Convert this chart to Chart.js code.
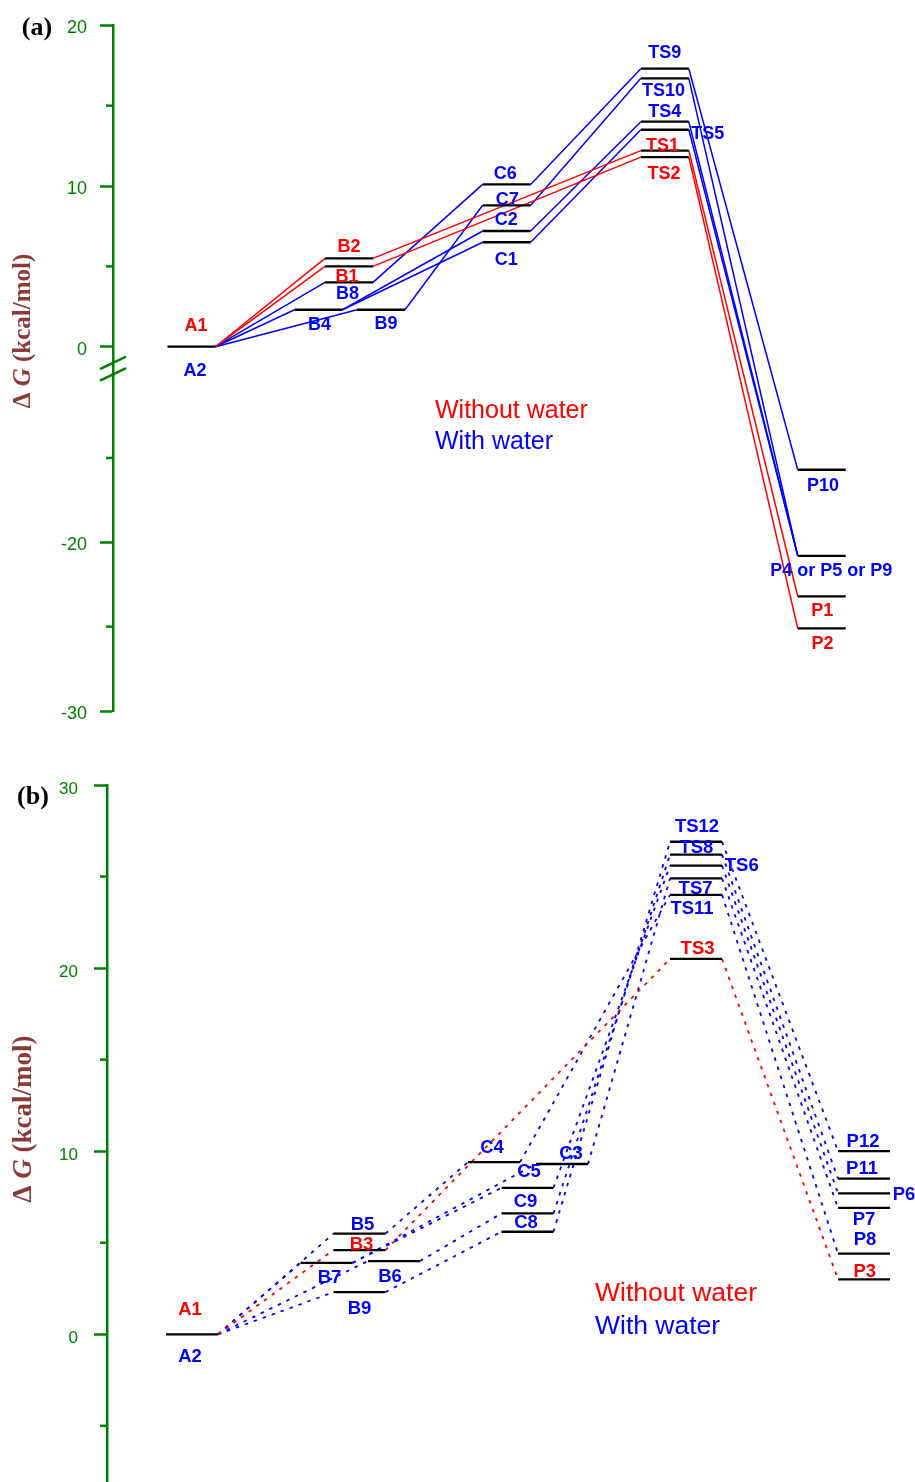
<!DOCTYPE html>
<html><head><meta charset="utf-8">
<script src="https://cdn.jsdelivr.net/npm/chart.js@4.4.1/dist/chart.umd.min.js"></script>
<style>
html,body{margin:0;padding:0;background:#fff;}
#wrap{position:relative;width:915px;height:1482px;overflow:hidden;background:#fff;}
canvas{position:absolute;left:0;}
#ca{top:0;}
#cb{top:745px;}
</style></head><body>
<div id="wrap">
<canvas id="ca" width="915" height="745"></canvas>
<canvas id="cb" width="915" height="839"></canvas>
</div>
<script>
// ================= DATA =================
// ---- Panel (a) ----
const aLevelNames  = ['A','B2','B1','B8','B4','B9','C6','C7','C2','C1','TS9','TS10','TS4','TS5','TS1','TS2','P10','P4 or P5 or P9','P1','P2'];
const aLevelValues = [0, 5.5, 5.0, 4.0, 2.3, 2.3, 10.1, 8.8, 7.2, 6.5, 17.3, 16.7, 14.0, 13.5, 12.2, 11.8, -15.7, -20.8, -23.2, -25.1];
const aPathsWithoutWater = [['A','B2','TS1','P1'], ['A','B1','TS2','P2']];
const aPathsWithWater = [['A','B8','C6','TS9','P10'], ['A','B9','C7','TS10','P4 or P5 or P9'], ['A','B4','C2','TS4','P4 or P5 or P9'], ['A','B4','C1','TS5','P4 or P5 or P9']];
const aLabelTexts  = ['A1','A2','B2','B1','B8','B4','B9','C6','C7','C2','C1','TS9','TS10','TS4','TS5','TS1','TS2','P10','P4 or P5 or P9','P1','P2'];
const aLabelLevels = ['A','A','B2','B1','B8','B4','B9','C6','C7','C2','C1','TS9','TS10','TS4','TS5','TS1','TS2','P10','P4 or P5 or P9','P1','P2'];
const aLabelSeries = ['without','with','without','without','with','with','with','with','with','with','with','with','with','with','with','without','without','with','with','without','without'];
const aTickValues = [20, 15, 10, 5, 0, -15, -20, -25, -30];
const aTickLabels = ['20', '', '10', '', '0', '', '-20', '', '-30'];

// ---- Panel (b) ----
const bLevelNames  = ['A','B5','B3','B7','B6','B9','C4','C5','C9','C8','C3','TS12','TS8','TS6','TS7','TS11','TS3','P12','P11','P6','P7','P8','P3'];
const bLevelValues = [0, 5.5, 4.6, 3.9, 4.0, 2.3, 9.4, 8.0, 6.6, 5.6, 9.3, 26.9, 26.2, 25.6, 24.9, 24.0, 20.5, 10.0, 8.5, 7.7, 6.9, 4.4, 3.0];
const bPathsWithoutWater = [['A','B3','TS3','P3']];
const bPathsWithWater = [['A','B5','C4','TS11','P8'], ['A','B7','C5','TS6','P6'], ['A','B6','C9','TS8','P11'], ['A','B9','C8','TS12','P12'], ['A','B7','C3','TS7','P7']];
const bLabelTexts  = ['A1','A2','B5','B3','B7','B6','B9','C4','C5','C9','C8','C3','TS12','TS8','TS6','TS7','TS11','TS3','P12','P11','P6','P7','P8','P3'];
const bLabelLevels = ['A','A','B5','B3','B7','B6','B9','C4','C5','C9','C8','C3','TS12','TS8','TS6','TS7','TS11','TS3','P12','P11','P6','P7','P8','P3'];
const bLabelSeries = ['without','with','with','without','with','with','with','with','with','with','with','with','with','with','with','with','with','without','with','with','with','with','with','without'];
const bTickValues = [30, 25, 20, 15, 10, 5, 0, -5];
const bTickLabels = ['30', '', '20', '', '10', '', '0', ''];

const legendTexts = ['Without water', 'With water'];
const axisTitleParts = ['\u0394 ', 'G', ' (kcal/mol)'];

// ================= LAYOUT / STYLE =================
const RED = '#ff0000', BLUE = '#0000ff', BLACK = '#000000', GREEN = '#008000', TITLE = '#8b3a3a';
const SERIES_COLOR = {without: RED, with: BLUE};

// horizontal column centres (reaction-coordinate units, 8 px each)
const aX = {'A':9.81,'B2':29.5,'B1':29.5,'B8':29.5,'B4':25.69,'B9':33.5,'C6':49.21,'C7':49.21,'C2':49.21,'C1':49.21,
  'TS9':68.98,'TS10':68.98,'TS4':68.98,'TS5':68.98,'TS1':68.98,'TS2':68.98,'P10':88.59,'P4 or P5 or P9':88.59,'P1':88.59,'P2':88.59};
const bX = {'A':10.63,'B5':31.56,'B3':31.56,'B9':31.56,'B7':27.44,'B6':35.88,'C4':48.38,'C5':52.56,'C9':52.56,'C8':52.56,'C3':56.88,
  'TS12':73.63,'TS8':73.63,'TS6':73.63,'TS7':73.63,'TS11':73.63,'TS3':73.63,'P12':94.63,'P11':94.63,'P6':94.63,'P7':94.63,'P8':94.63,'P3':94.63};
// label offsets from level centre (px)
const aLabelOff = {'A1':[4.5,-22],'A2':[3.5,23],'B2':[0,-13],'B1':[-2,9],'B8':[-1.5,10],'B4':[1,14],'B9':[5,13],
  'C6':[-1.5,-12],'C7':[0.5,-6.5],'C2':[-0.5,-12],'C1':[-0.5,16],'TS9':[0,-17],'TS10':[-1.3,11.5],'TS4':[0,-11.6],'TS5':[43,3],
  'TS1':[-2.3,-6.3],'TS2':[-0.8,15],'P10':[1.3,15],'P4 or P5 or P9':[9.6,14],'P1':[0.5,13],'P2':[0.8,14]};
const bLabelOff = {'A1':[-2,-26],'A2':[-2,21],'B5':[3,-10.5],'B3':[2,-6.5],'B7':[3,13],'B6':[-4,14.5],'B9':[0,15.6],
  'C4':[-2,-15.5],'C5':[1.5,-17],'C9':[-2,-13.5],'C8':[-1.5,-10],'C3':[9,-12],'TS12':[1,-16.5],'TS8':[0.3,-8],'TS6':[45.7,-1],
  'TS7':[-0.5,8.5],'TS11':[-4,12.5],'TS3':[1.5,-12],'P12':[-1,-11],'P11':[-2,-11.5],'P6':[40,0],'P7':[0,10],'P8':[1,-15],'P3':[0.7,-8.5]};

// broken axis of panel (a): values below the break are drawn on a compressed lower segment
function brkA(v){ return v >= -1.5 ? v : -12.17 + (20 + v) * 1.0498; }
function ident(v){ return v; }

function buildDatasets(names, values, xc, hw, pathsRed, pathsBlue, dash, lw, tf) {
  const val = n => tf(values[names.indexOf(n)]);
  const ds = [];
  names.forEach(n => ds.push({data:[{x:xc[n]-hw,y:val(n)},{x:xc[n]+hw,y:val(n)}], borderColor:BLACK, borderWidth:2.3, borderCapStyle:'butt'}));
  const seen = new Set();
  const add = (paths, color) => paths.forEach(p => {
    for (let k = 0; k < p.length - 1; k++) {
      const a = p[k], b = p[k+1], key = color + a + '>' + b;
      if (seen.has(key)) continue; seen.add(key);
      ds.push({data:[{x:xc[a]+hw,y:val(a)},{x:xc[b]-hw,y:val(b)}], borderColor:color, borderWidth:lw, borderDash:dash});
    }
  });
  add(pathsRed, RED); add(pathsBlue, BLUE);
  return ds;
}

function decor(o) {
  return { id:'decor'+o.tag, afterDraw(chart) {
    const ctx = chart.ctx, ys = chart.scales.y, xs = chart.scales.x;
    ctx.save();
    const axX = ys.right;
    // minor ticks
    ctx.strokeStyle = GREEN; ctx.lineWidth = 2.5;
    o.tickValues.forEach((v,i) => { if (!o.tickLabels[i]) { const py = ys.getPixelForValue(o.tf(v)); ctx.beginPath(); ctx.moveTo(axX-7,py); ctx.lineTo(axX,py); ctx.stroke(); } });
    // axis break marks
    if (o.breaks) o.breaks.forEach(bv => { const py = ys.getPixelForValue(bv); ctx.beginPath(); ctx.moveTo(axX-13,py+6.3); ctx.lineTo(axX+13,py-6.3); ctx.stroke(); });
    // level labels
    ctx.font = 'bold ' + o.labelSize + 'px "Liberation Sans", Arial, sans-serif'; ctx.textAlign = 'center'; ctx.textBaseline = 'alphabetic';
    const capHalf = 0.716 * o.labelSize / 2;
    o.labelTexts.forEach((t,i) => {
      const lv = o.labelLevels[i]; const v = o.values[o.names.indexOf(lv)];
      const off = o.labelOff[t];
      const cx = xs.getPixelForValue(o.xc[lv]) + off[0];
      const cy = ys.getPixelForValue(o.tf(v)) + off[1];
      ctx.fillStyle = SERIES_COLOR[o.labelSeries[i]];
      ctx.fillText(t, cx, cy + capHalf);
    });
    // legend texts
    ctx.textAlign = 'left'; ctx.font = o.legendFont;
    ctx.fillStyle = RED; ctx.fillText(legendTexts[0], o.legend[0], o.legend[1]);
    ctx.fillStyle = BLUE; ctx.fillText(legendTexts[1], o.legend[0], o.legend[2]);
    // panel tag
    ctx.fillStyle = BLACK; ctx.font = 'bold 26px "Liberation Serif", "Times New Roman", serif'; ctx.textAlign = 'center'; ctx.textBaseline = 'middle';
    ctx.fillText(o.tagText, o.tagPos[0], o.tagPos[1]);
    // y-axis title (rotated)
    ctx.translate(o.titlePos[0], o.titlePos[1]); ctx.rotate(-Math.PI/2);
    const fN = 'bold ' + o.titleSize + 'px "Liberation Serif", "Times New Roman", serif';
    const fI = 'italic bold ' + o.titleSize + 'px "Liberation Serif", "Times New Roman", serif';
    const fonts = [fN, fI, fN];
    let w = 0; axisTitleParts.forEach((p,i) => { ctx.font = fonts[i]; w += ctx.measureText(p).width; });
    let x = -w/2; ctx.textAlign = 'left'; ctx.fillStyle = TITLE;
    axisTitleParts.forEach((p,i) => { ctx.font = fonts[i]; ctx.fillText(p, x, 0); x += ctx.measureText(p).width; });
    ctx.restore();
  }};
}

function makeChart(id, o) {
  const ds = buildDatasets(o.names, o.values, o.xc, o.hw, o.pathsRed, o.pathsBlue, o.dash, o.lw, o.tf);
  return new Chart(document.getElementById(id), {
    type:'line',
    data:{datasets: ds},
    options:{
      responsive:false, animation:false, events:[],
      elements:{point:{radius:0}, line:{tension:0}},
      layout:{padding:o.padding},
      plugins:{legend:{display:false}, tooltip:{enabled:false}},
      scales:{
        x:{type:'linear', display:false, min:0, max:100},
        y:{type:'linear', min:o.ymin, max:o.ymax,
          afterFit: s => { s.width = o.axisX; },
          afterBuildTicks: s => { s.ticks = o.tickValues.map(v => ({value:o.tf(v)})); },
          ticks:{autoSkip:false, padding:o.tickPad, labelOffset:o.tickLabelOffset, color:GREEN,
                 font:{family:'"Liberation Sans", Arial, sans-serif', size:o.tickSize},
                 callback:(v,i) => o.tickLabels[i]},
          grid:{drawOnChartArea:false, drawTicks:true, tickLength:13, tickWidth:2.5,
                tickColor: c => o.tickLabels[c.index] ? GREEN : 'rgba(0,0,0,0)'},
          border:{display:true, color:GREEN, width:2.5}
        }
      }
    },
    plugins:[decor(o)]
  });
}

makeChart('ca', {tag:'a', tagText:'(a)', tagPos:[37,28], names:aLevelNames, values:aLevelValues, xc:aX, hw:3,
  pathsRed:aPathsWithoutWater, pathsBlue:aPathsWithWater, dash:[], lw:1.5, tf:brkA, labelSize:18,
  labelTexts:aLabelTexts, labelLevels:aLabelLevels, labelSeries:aLabelSeries, labelOff:aLabelOff,
  tickValues:aTickValues, tickLabels:aTickLabels, ymin:brkA(-30), ymax:20, axisX:113, tickPad:13, tickSize:18, tickLabelOffset:3,
  padding:{top:25.3, bottom:34, left:0, right:2}, breaks:[-1.01,-1.72],
  legend:[435,418,449], legendFont:'25px "Liberation Sans", Arial, sans-serif', titlePos:[24,331], titleSize:25});

makeChart('cb', {tag:'b', tagText:'(b)', tagPos:[33,52], names:bLevelNames, values:bLevelValues, xc:bX, hw:3.25,
  pathsRed:bPathsWithoutWater, pathsBlue:bPathsWithWater, dash:[3.5,6], lw:1.8, tf:ident, labelSize:18.5,
  labelTexts:bLabelTexts, labelLevels:bLabelLevels, labelSeries:bLabelSeries, labelOff:bLabelOff,
  tickValues:bTickValues, tickLabels:bTickLabels, ymin:-12, ymax:30, axisX:107, tickPad:16, tickSize:17, tickLabelOffset:4,
  padding:{top:40, bottom:30, left:0, right:8}, breaks:null,
  legend:[595,1301-745,1334-745], legendFont:'26.5px "Liberation Sans", Arial, sans-serif', titlePos:[24,1119-745], titleSize:27});
</script>
</body></html>
